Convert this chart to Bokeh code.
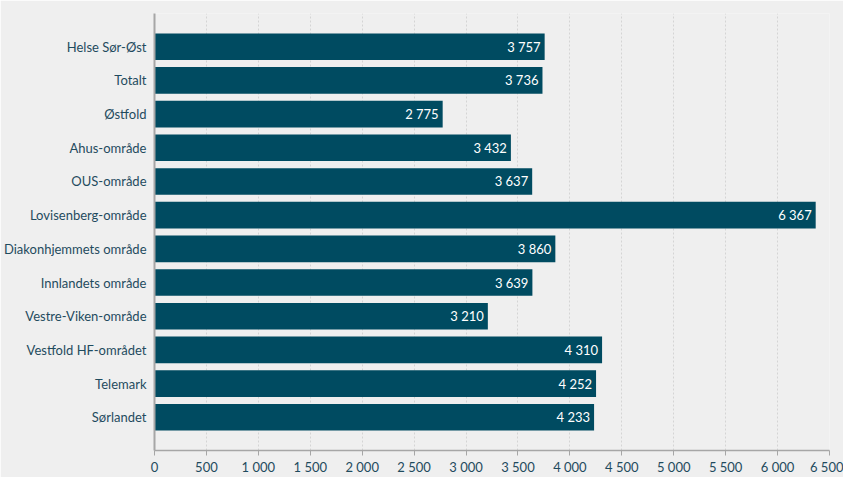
from bokeh.plotting import figure
from bokeh.models import ColumnDataSource, FactorRange, FixedTicker, LabelSet
from bokeh.core.properties import value
from bokeh.embed import file_html
from bokeh.resources import INLINE

categories = ["Helse Sør-Øst", "Totalt", "Østfold", "Ahus-område", "OUS-område",
              "Lovisenberg-område", "Diakonhjemmets område", "Innlandets område",
              "Vestre-Viken-område", "Vestfold HF-området", "Telemark", "Sørlandet"]
values = [3757, 3736, 2775, 3432, 3637, 6367, 3860, 3639, 3210, 4310, 4252, 4233]
x_ticks = list(range(0, 6501, 500))

def fmt(v):
    return f"{v:,}".replace(",", " ")

src = ColumnDataSource(dict(cat=categories, val=values, lab=[fmt(v) for v in values]))

BG = "#efefef"
BAR = "#004b61"
TXT = "#1f4b5e"
FONT = "Lato"

p = figure(y_range=FactorRange(factors=categories[::-1], range_padding=0.485,
                               range_padding_units="absolute"),
           x_range=(0, 6500),
           frame_width=675, frame_height=437,
           min_border_left=146, min_border_right=14, min_border_top=13, min_border_bottom=0,
           output_backend="svg", toolbar_location=None,
           background_fill_color=BG, border_fill_color=BG)
p.outline_line_color = None

p.hbar(y="cat", right="val", left=0, height=0.79, source=src, color=BAR, line_color=None)

labels = LabelSet(x="val", y="cat", text="lab", source=src, x_offset=-4,
                  text_align="right", text_baseline="middle", text_color="white",
                  text_font=value(FONT), text_font_size="13px")
p.add_layout(labels)

p.xaxis.ticker = FixedTicker(ticks=x_ticks)
p.xaxis.major_label_overrides = {t: fmt(t) for t in x_ticks}
p.xaxis.major_label_text_font = FONT
p.xaxis.major_label_text_font_size = "13px"
p.xaxis.major_label_text_color = TXT
p.xaxis.axis_line_color = "#a6a6a6"
p.xaxis.axis_line_width = 1.5
p.xaxis.major_tick_line_color = "#a6a6a6"
p.xaxis.major_tick_out = 5
p.xaxis.major_tick_in = 0
p.xaxis.minor_tick_line_color = None
p.xaxis.major_label_standoff = 3

p.yaxis.major_label_text_font = FONT
p.yaxis.major_label_text_font_size = "13px"
p.yaxis.major_label_text_color = TXT
p.yaxis.axis_line_color = "#a6a6a6"
p.yaxis.axis_line_width = 2
p.yaxis.major_tick_line_color = None
p.yaxis.minor_tick_line_color = None
p.yaxis.major_label_standoff = 2

p.ygrid.grid_line_color = None
p.xgrid.grid_line_color = "#d4d4d4"
p.xgrid.grid_line_dash = "2 2"
p.xgrid.grid_line_width = 1

open("out.html", "w").write(file_html(p, INLINE))
